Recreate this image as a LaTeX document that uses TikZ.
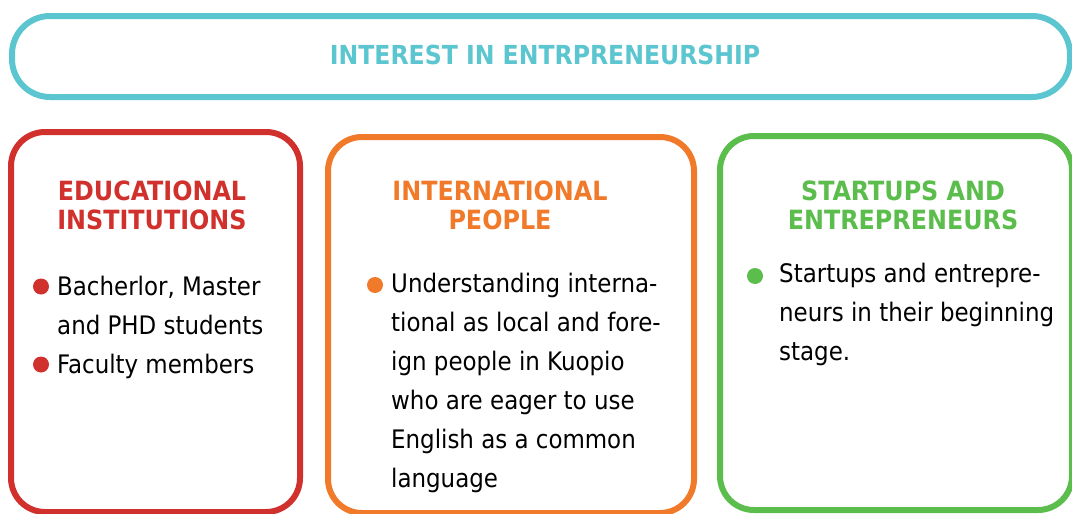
\documentclass[tikz,border=0pt]{standalone}
\usepackage{fontspec}
\setmainfont{DejaVu Sans Condensed}
\definecolor{cyanc}{HTML}{5BC5D0}
\definecolor{redc}{HTML}{D0312D}
\definecolor{orangec}{HTML}{F07A2A}
\definecolor{greenc}{HTML}{5BBD4B}
\begin{document}
\begin{tikzpicture}[x=1pt,y=-1pt,
  panel/.style={draw=#1, line width=6pt, rounded corners=34pt, inner sep=0pt},
  head/.style={text=#1, font=\fontsize{26.5}{29}\selectfont\bfseries, align=center, inner sep=0pt},
  body/.style={text=black, font=\fontsize{25.5}{39}\selectfont, align=left, inner sep=0pt, anchor=base west},
  dot/.style={circle, fill=#1, minimum size=16pt, inner sep=0pt}]
\useasboundingbox (0,0) rectangle (1072,514);
\clip (0,0) rectangle (1072,514);
\node[panel=cyanc, rounded corners=38pt, minimum width=1058pt, minimum height=81pt] (top) at (541,56.5) {};
\node[text=cyanc, font=\fontsize{26.2}{29}\selectfont\bfseries, inner sep=0pt, anchor=base] (title) at (545,64) {INTEREST IN ENTRPRENEURSHIP};

\node[panel=redc, minimum width=289pt, minimum height=380pt] (edu) at (155.5,322) {};
\node[panel=orangec, minimum width=366pt, minimum height=376pt] (intl) at (511,325) {};
\node[panel=greenc, minimum width=352pt, minimum height=374pt] (start) at (896,323) {};

\node[head=redc, anchor=base] (eduh) at (152,229) {EDUCATIONAL\\INSTITUTIONS};
\node[head=orangec, anchor=base] (intlh) at (500,229) {INTERNATIONAL\\PEOPLE};
\node[head=greenc, anchor=base] (starth) at (903,229) {STARTUPS AND\\ENTREPRENEURS};

\node[dot=redc] (d1) at (41,286.5) {};
\node[body] (t1) at (57,334) {Bacherlor, Master\\and PHD students};
\node[dot=redc] (d2) at (41,364.5) {};
\node[body] (t2) at (57,373) {Faculty members};

\node[dot=orangec] (d3) at (375,285) {};
\node[body] (t3) at (391,487) {Understanding interna-\\tional as local and fore-\\ign people in Kuopio\\who are eager to use\\English as a common\\language};

\node[dot=greenc] (d4) at (755,276) {};
\node[body] (t4) at (779,360) {Startups and entrepre-\\neurs in their beginning\\stage.};
\end{tikzpicture}
\end{document}
